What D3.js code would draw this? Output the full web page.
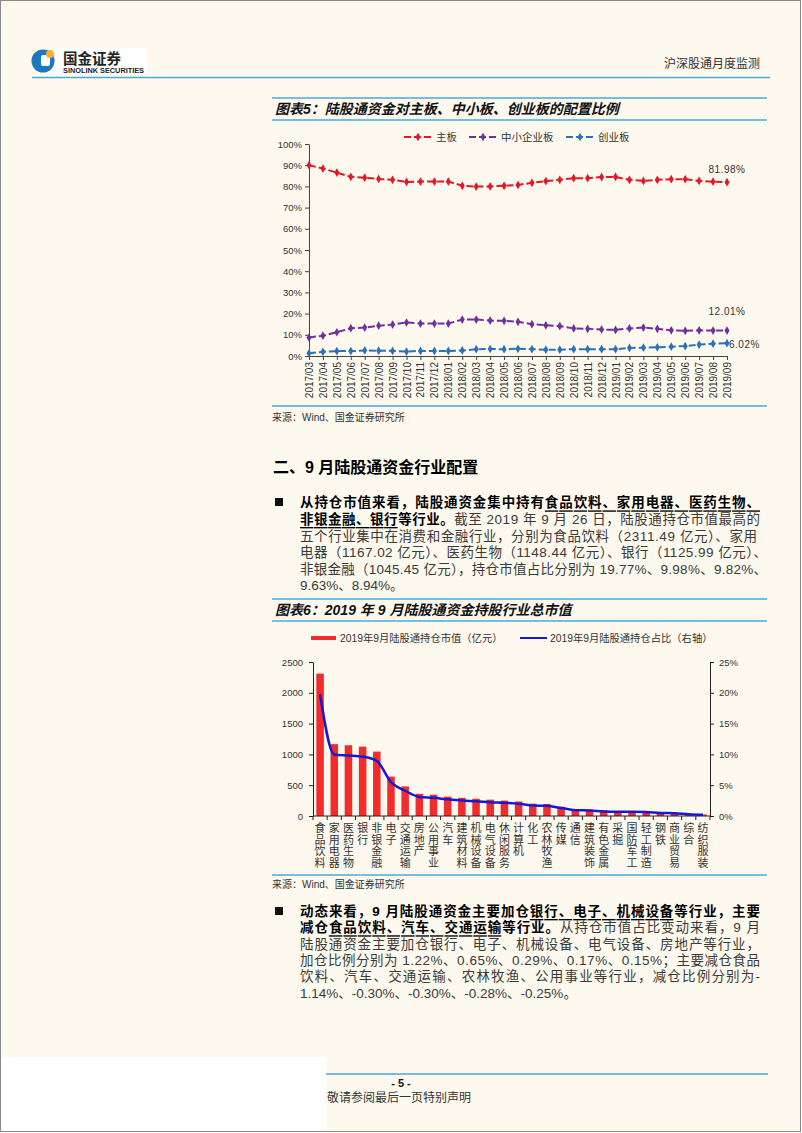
<!DOCTYPE html>
<html>
<head>
<meta charset="utf-8">
<script src="https://cdn.jsdelivr.net/npm/d3@7"></script>
<style>
  body { margin: 0; background: #fff; }
  svg text { font-family: "Liberation Sans", Arial, "Noto Sans CJK SC", sans-serif; }
</style>
</head>
<body>
<svg width="802" height="1133"></svg>
<script>
/*
 * Chart data: 图表5 (board allocation, %) and 图表6 (industry holdings)
 */
var months = ["2017/03","2017/04","2017/05","2017/06","2017/07","2017/08","2017/09","2017/10","2017/11","2017/12",
              "2018/01","2018/02","2018/03","2018/04","2018/05","2018/06","2018/07","2018/08","2018/09","2018/10",
              "2018/11","2018/12","2019/01","2019/02","2019/03","2019/04","2019/05","2019/06","2019/07","2019/08","2019/09"];
var mainBoard = [90.0,88.4,86.5,84.5,84.1,83.5,83.1,82.1,82.3,82.3,82.3,80.3,79.9,80.0,80.3,80.7,81.7,82.5,83.1,83.9,83.9,84.4,84.5,83.1,82.6,83.1,83.4,83.4,82.6,82.2,81.98];
var smeBoard  = [8.7,9.6,11.2,13.1,13.4,14.3,14.8,15.8,15.3,15.3,15.3,17.2,17.2,16.7,16.6,16.1,15.0,14.5,14.1,13.0,12.8,12.5,12.3,13.0,13.4,12.8,12.1,11.9,12.1,12.0,12.01];
var gemBoard  = [1.3,2.0,2.3,2.3,2.6,2.5,2.4,2.1,2.4,2.4,2.4,2.6,3.2,3.3,3.2,3.4,3.2,3.0,3.0,3.2,3.2,3.2,3.2,3.8,3.9,4.1,4.4,4.7,5.4,5.8,6.02];
var pctTicks = [0,10,20,30,40,50,60,70,80,90,100];

var industries = ["食品饮料","家用电器","医药生物","银行","非银金融","电子","交通运输","房地产","公用事业","汽车",
                  "建筑材料","机械设备","电气设备","休闲服务","计算机","化工","农林牧渔","传媒","通信","建筑装饰",
                  "有色金属","采掘","国防军工","轻工制造","钢铁","商业贸易","综合","纺织服装"];
var holdValue = [2311.49,1167.02,1148.44,1125.99,1045.45,640,480,360,345,315,295,280,265,250,235,200,195,150,110,105,90,80,80,78,60,55,35,25];
var holdShare = [19.77,9.98,9.82,9.63,8.94,5.5,4.1,3.1,2.95,2.7,2.5,2.4,2.25,2.15,2.0,1.7,1.65,1.3,0.95,0.9,0.75,0.7,0.7,0.65,0.5,0.45,0.3,0.2];
var valueTicks = [0,500,1000,1500,2000,2500];
var shareTicks = [0,5,10,15,20,25];

var svg = d3.select("svg"),
    cream = "#fdf9ee",
    rule = "#47aadc",
    ink = "#333";

/*
 * Page frame, white footer patch
 */
svg.append("rect").attr("x", 0.5).attr("y", 0.5).attr("width", 800).attr("height", 1131)
    .attr("fill", cream).attr("stroke", "#8a8a8a");
svg.append("rect").attr("x", 1).attr("y", 1057).attr("width", 325).attr("height", 74).attr("fill", "#fff");

/*
 * Header: logo + report name
 */
var logo = svg.append("g");
logo.append("rect").attr("x", 55).attr("y", 48).attr("width", 92).attr("height", 26).attr("fill", "#fff");
logo.append("circle").attr("cx", 43).attr("cy", 61).attr("r", 11.5).attr("fill", "#1d78c1");
logo.append("rect").attr("x", 41).attr("y", 55).attr("width", 9).attr("height", 11).attr("rx", 2).attr("fill", "#fff");
logo.append("circle").attr("cx", 50).attr("cy", 54).attr("r", 4).attr("fill", "#f4b030");
logo.append("text").attr("x", 63).attr("y", 63.5).text("国金证券")
    .style("font-size", "14.5px").style("font-weight", 700).attr("fill", "#222");
logo.append("text").attr("x", 63).attr("y", 73).text("SINOLINK SECURITIES")
    .attr("textLength", 81).attr("lengthAdjust", "spacingAndGlyphs")
    .style("font-size", "6.5px").style("font-weight", 700).attr("fill", "#222");

svg.append("text").attr("x", 760).attr("y", 64).attr("text-anchor", "end").attr("dominant-baseline", "central")
    .text("沪深股通月度监测").style("font-size", "12px").attr("fill", ink);
svg.append("line").attr("x1", 32).attr("x2", 770).attr("y1", 77.5).attr("y2", 77.5)
    .attr("stroke", rule).attr("stroke-width", 1.5);

/*
 * helpers for the report text blocks
 */
function hRule(y) {
  svg.append("line").attr("x1", 272).attr("x2", 767).attr("y1", y).attr("y2", y)
      .attr("stroke", rule).attr("stroke-width", 1.5);
}
function chartTitle(top, bottom, label) {
  hRule(top); hRule(bottom);
  svg.append("text").attr("x", 275).attr("y", (top + bottom) / 2).attr("dominant-baseline", "central")
      .text(label).style("font-size", "14px").style("font-weight", 700).style("font-style", "italic")
      .attr("fill", "#111");
}
function source(lineY, textY) {
  hRule(lineY);
  svg.append("text").attr("x", 272).attr("y", textY).attr("dominant-baseline", "central")
      .text("来源：Wind、国金证券研究所").style("font-size", "10px").attr("fill", ink);
}
function paraLine(y, parts, width) {
  var t = svg.append("text").attr("x", 300).attr("y", y).attr("dominant-baseline", "central")
      .style("font-size", "13.5px");
  parts.forEach(function(p) {
    t.append("tspan").text(p.t)
      .style("font-weight", p.b ? 700 : 400)
      .attr("fill", p.b ? "#000" : "#3a3a3a")
      .style("text-decoration", p.u ? "underline" : null);
  });
  if (width) t.attr("textLength", width).attr("lengthAdjust", "spacing");
}
function bullet(y) {
  svg.append("rect").attr("x", 275).attr("y", y - 4).attr("width", 8).attr("height", 8).attr("fill", "#111");
}

/*
 * 图表5: line chart
 */
chartTitle(98, 120, "图表5：陆股通资金对主板、中小板、创业板的配置比例");

var x1 = d3.scalePoint().domain(months).range([309, 727]),
    y1 = d3.scaleLinear().domain([0, 100]).range([356, 144]);

var series1 = [
  {name: "主板", values: mainBoard, color: "#e3172a", lx: 404},
  {name: "中小企业板", values: smeBoard, color: "#7030a0", lx: 469},
  {name: "创业板", values: gemBoard, color: "#2a72b8", lx: 566}
];

var gy1 = svg.append("g").attr("transform", "translate(309,0)")
    .call(d3.axisLeft(y1).tickValues(pctTicks).tickFormat(function(d) { return d + "%"; })
      .tickSize(4).tickSizeOuter(0).tickPadding(3));
gy1.selectAll("text").style("font-size", "9.5px").attr("fill", ink);
gy1.selectAll("line,path").attr("stroke", "#444");

var gx1 = svg.append("g").attr("transform", "translate(0,356)")
    .call(d3.axisBottom(x1).tickSize(4).tickSizeOuter(0));
gx1.selectAll("line,path").attr("stroke", "#444");
gx1.selectAll("text")
    .attr("transform", "rotate(-90)")
    .attr("text-anchor", "end")
    .attr("x", -6).attr("y", 0).attr("dy", "0.35em")
    .style("font-size", "10px").attr("fill", ink);

var line1 = d3.line()
    .x(function(d, i) { return x1(months[i]); })
    .y(function(d) { return y1(d); });

series1.forEach(function(s) {
  svg.append("path").attr("d", line1(s.values)).attr("fill", "none")
      .attr("stroke", s.color).attr("stroke-width", 2).attr("stroke-dasharray", "7,3");
  svg.append("g").selectAll("path").data(s.values).enter().append("path")
      .attr("d", d3.symbol().type(d3.symbolDiamond).size(22))
      .attr("transform", function(d, i) { return "translate(" + x1(months[i]) + "," + y1(d) + ")"; })
      .attr("fill", s.color);
  // legend
  svg.append("line").attr("x1", s.lx).attr("x2", s.lx + 28).attr("y1", 137).attr("y2", 137)
      .attr("stroke", s.color).attr("stroke-width", 2).attr("stroke-dasharray", "7,3");
  svg.append("path").attr("d", d3.symbol().type(d3.symbolDiamond).size(22))
      .attr("transform", "translate(" + (s.lx + 14) + ",137)").attr("fill", s.color);
  svg.append("text").attr("x", s.lx + 32).attr("y", 137).attr("dominant-baseline", "central")
      .text(s.name).style("font-size", "10.5px").attr("fill", ink);
});

var last = months[months.length - 1];
svg.append("text").attr("x", x1(last)).attr("y", y1(mainBoard[30]) - 13).attr("text-anchor", "middle")
    .attr("dominant-baseline", "central").text("81.98%").style("font-size", "10px")
    .style("letter-spacing", "0.5px").attr("fill", ink);
svg.append("text").attr("x", x1(last)).attr("y", y1(smeBoard[30]) - 19).attr("text-anchor", "middle")
    .attr("dominant-baseline", "central").text("12.01%").style("font-size", "10px")
    .style("letter-spacing", "0.5px").attr("fill", ink);
svg.append("text").attr("x", x1(last) + 2).attr("y", y1(gemBoard[30]) + 1)
    .attr("dominant-baseline", "central").text("6.02%").style("font-size", "10px")
    .style("letter-spacing", "0.5px").attr("fill", ink);

source(406, 417);

/*
 * Section 二 and first paragraph
 */
svg.append("text").attr("x", 273).attr("y", 467).attr("dominant-baseline", "central")
    .text("二、9 月陆股通资金行业配置").style("font-size", "16px").style("font-weight", 700).attr("fill", "#000");

bullet(502);
paraLine(502.4, [{t: "从持仓市值来看，陆股通资金集中持有", b: 1}, {t: "食品饮料、家用电器、医药生物、", b: 1, u: 1}], 460);
paraLine(519, [{t: "非银金融、银行", b: 1, u: 1}, {t: "等行业。", b: 1}, {t: "截至 2019 年 9 月 26 日，陆股通持仓市值最高的"}], 460);
paraLine(535.5, [{t: "五个行业集中在消费和金融行业，分别为食品饮料（2311.49 亿元）、家用"}], 457);
paraLine(552, [{t: "电器（1167.02 亿元）、医药生物（1148.44 亿元）、银行（1125.99 亿元）、"}], 467);
paraLine(568.5, [{t: "非银金融（1045.45 亿元），持仓市值占比分别为 19.77%、9.98%、9.82%、"}], 467);
paraLine(585, [{t: "9.63%、8.94%。"}]);

/*
 * 图表6: bars + share line
 */
chartTitle(599, 621, "图表6：2019 年 9 月陆股通资金持股行业总市值");

var x2 = d3.scaleBand().domain(industries).range([313, 710]).paddingInner(0.47).paddingOuter(0.235),
    yL = d3.scaleLinear().domain([0, 2500]).range([816, 662]),
    yR = d3.scaleLinear().domain([0, 25]).range([816, 662]);

svg.append("g").selectAll("rect").data(holdValue).enter().append("rect")
    .attr("x", function(d, i) { return x2(industries[i]); })
    .attr("y", function(d) { return yL(d); })
    .attr("width", x2.bandwidth())
    .attr("height", function(d) { return yL(0) - yL(d); })
    .attr("fill", "#f22b2b");

var gl = svg.append("g").attr("transform", "translate(313,0)")
    .call(d3.axisLeft(yL).tickValues(valueTicks).tickFormat(d3.format("d"))
      .tickSize(4).tickSizeOuter(0).tickPadding(6));
var gr = svg.append("g").attr("transform", "translate(710,0)")
    .call(d3.axisRight(yR).tickValues(shareTicks).tickFormat(function(d) { return d + "%"; })
      .tickSize(4).tickSizeOuter(0).tickPadding(5));
[gl, gr].forEach(function(g) {
  g.selectAll("line,path").attr("stroke", "#222");
  g.selectAll("text").style("font-size", "9.5px").attr("fill", ink);
});

// category axis with ticks between bands
var gap = (x2.step() - x2.bandwidth()) / 2,
    bounds = industries.map(function(d) { return x2(d) - gap; }).concat([710]);
var gx2 = svg.append("g");
gx2.append("line").attr("x1", 313).attr("x2", 710).attr("y1", 816).attr("y2", 816).attr("stroke", "#222");
gx2.selectAll("line.tk").data(bounds).enter().append("line").attr("class", "tk")
    .attr("x1", function(d) { return d; }).attr("x2", function(d) { return d; })
    .attr("y1", 816).attr("y2", 820).attr("stroke", "#222");
gx2.selectAll("text").data(industries).enter().append("text")
    .attr("x", function(d) { return x2(d) + x2.bandwidth() / 2; })
    .attr("y", 828)
    .attr("text-anchor", "middle")
    .style("font-size", "11px").attr("fill", ink)
    .each(function(d) {
      var t = d3.select(this), cx = x2(d) + x2.bandwidth() / 2;
      d.split("").forEach(function(c, k) {
        t.append("tspan").attr("x", cx).attr("y", 828 + k * 11.6).attr("dominant-baseline", "central").text(c);
      });
    });

var line2 = d3.line().curve(d3.curveMonotoneX)
    .x(function(d, i) { return x2(industries[i]) + x2.bandwidth() / 2; })
    .y(function(d) { return yR(d); });
svg.append("path").attr("d", line2(holdShare)).attr("fill", "none")
    .attr("stroke", "#1818d0").attr("stroke-width", 2.5);

// legend
svg.append("rect").attr("x", 311).attr("y", 636).attr("width", 25).attr("height", 4).attr("fill", "#f22b2b");
svg.append("text").attr("x", 340).attr("y", 638).attr("dominant-baseline", "central")
    .text("2019年9月陆股通持仓市值（亿元）").style("font-size", "10.3px").attr("fill", ink);
svg.append("line").attr("x1", 520).attr("x2", 547).attr("y1", 638).attr("y2", 638)
    .attr("stroke", "#1818d0").attr("stroke-width", 2);
svg.append("text").attr("x", 550).attr("y", 638).attr("dominant-baseline", "central")
    .text("2019年9月陆股通持仓占比（右轴）").style("font-size", "10.3px").attr("fill", ink);

source(875, 884);

/*
 * second paragraph
 */
bullet(911);
paraLine(911, [{t: "动态来看，9 月陆股通资金主要加仓", b: 1}, {t: "银行、电子、机械设备", b: 1, u: 1}, {t: "等行业，主要", b: 1}], 460);
paraLine(927.3, [{t: "减仓", b: 1}, {t: "食品饮料、汽车、交通运输", b: 1, u: 1}, {t: "等行业。", b: 1}, {t: "从持仓市值占比变动来看，9 月"}], 460);
paraLine(943.6, [{t: "陆股通资金主要加仓银行、电子、机械设备、电气设备、房地产等行业，"}], 460);
paraLine(960, [{t: "加仓比例分别为 1.22%、0.65%、0.29%、0.17%、0.15%；主要减仓食品"}], 460);
paraLine(976.3, [{t: "饮料、汽车、交通运输、农林牧渔、公用事业等行业，减仓比例分别为-"}], 460);
paraLine(992.6, [{t: "1.14%、-0.30%、-0.30%、-0.28%、-0.25%。"}]);

/*
 * Footer
 */
svg.append("line").attr("x1", 326).attr("x2", 768).attr("y1", 1074).attr("y2", 1074)
    .attr("stroke", rule).attr("stroke-width", 1.5);
svg.append("text").attr("x", 401).attr("y", 1083).attr("text-anchor", "middle").attr("dominant-baseline", "central")
    .text("- 5 -").style("font-size", "11px").style("font-weight", 700).attr("fill", "#111");
svg.append("text").attr("x", 327).attr("y", 1098).attr("dominant-baseline", "central")
    .text("敬请参阅最后一页特别声明").style("font-size", "12px").attr("fill", ink);
</script>
</body>
</html>
